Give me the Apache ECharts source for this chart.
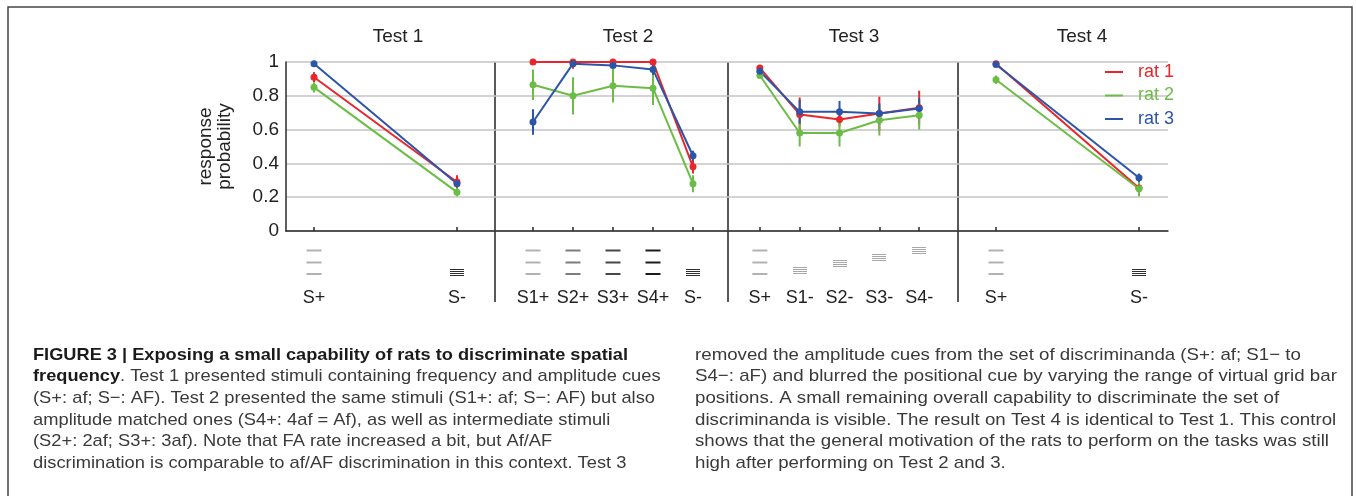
<!DOCTYPE html>
<html>
<head>
<meta charset="utf-8">
<script src="https://cdn.jsdelivr.net/npm/echarts@6/dist/echarts.min.js"></script>
<style>
html,body{margin:0;padding:0;background:#fff;}
#main{width:1356px;height:496px;}
</style>
</head>
<body>
<div id="main"></div>
<script>
// ---- data ----
const testNames = ['Test 1', 'Test 2', 'Test 3', 'Test 4']
const ratNames = ['rat 1', 'rat 2', 'rat 3']

const stim1 = ['S+', 'S-']
const stim2 = ['S1+', 'S2+', 'S3+', 'S4+', 'S-']
const stim3 = ['S+', 'S1-', 'S2-', 'S3-', 'S4-']
const stim4 = ['S+', 'S-']

// grating type of each stimulus (af = low amp/freq, AF = high, aF = low amp high freq)
const grating1 = ['af', 'AF']
const grating2 = ['af', '2af', '3af', '4af', 'AF']
const grating3 = ['af', 'aF', 'aF', 'aF', 'aF']
const grating4 = ['af', 'AF']
// positional shift of the grid bars (test 3)
const shift3 = [0, 0, 1, 2, 3]

// response probability, one array per rat
const t1Rat1 = [0.91, 0.29]
const t1Rat2 = [0.85, 0.23]
const t1Rat3 = [0.99, 0.28]
const t2Rat1 = [1.0, 1.0, 1.0, 1.0, 0.38]
const t2Rat2 = [0.865, 0.80, 0.86, 0.845, 0.28]
const t2Rat3 = [0.645, 0.99, 0.98, 0.955, 0.445]
const t3Rat1 = [0.965, 0.69, 0.66, 0.695, 0.73]
const t3Rat2 = [0.92, 0.58, 0.58, 0.655, 0.685]
const t3Rat3 = [0.945, 0.705, 0.705, 0.695, 0.725]
const t4Rat1 = [0.99, 0.255]
const t4Rat2 = [0.895, 0.25]
const t4Rat3 = [0.985, 0.315]

// error bar half lengths
const t1Err1 = [0.03, 0.04]
const t1Err2 = [0.03, 0.025]
const t1Err3 = [0.01, 0.02]
const t2Err1 = [0.0, 0.04, 0.0, 0.0, 0.04]
const t2Err2 = [0.09, 0.11, 0.10, 0.10, 0.05]
const t2Err3 = [0.075, 0.01, 0.015, 0.03, 0.03]
const t3Err1 = [0.01, 0.10, 0.04, 0.10, 0.10]
const t3Err2 = [0.01, 0.08, 0.08, 0.09, 0.085]
const t3Err3 = [0.01, 0.07, 0.065, 0.06, 0.06]
const t4Err1 = [0.01, 0.02]
const t4Err2 = [0.025, 0.045]
const t4Err3 = [0.01, 0.025]

const capLeft = [
    'FIGURE 3 | Exposing a small capability of rats to discriminate spatial',
    '. Test 1 presented stimuli containing frequency and amplitude cues',
    '(S+: af; S\u2212: AF). Test 2 presented the same stimuli (S1+: af; S\u2212: AF) but also',
    'amplitude matched ones (S4+: 4af = Af), as well as intermediate stimuli',
    '(S2+: 2af; S3+: 3af). Note that FA rate increased a bit, but Af/AF',
    'discrimination is comparable to af/AF discrimination in this context. Test 3'
]
const capRight = [
    'removed the amplitude cues from the set of discriminanda (S+: af; S1\u2212 to',
    'S4\u2212: aF) and blurred the positional cue by varying the range of virtual grid bar',
    'positions. A small remaining overall capability to discriminate the set of',
    'discriminanda is visible. The result on Test 4 is identical to Test 1. This control',
    'shows that the general motivation of the rats to perform on the tasks was still',
    'high after performing on Test 2 and 3.'
]

// ---- layout / style ----
const ratColors = ['#e8262b', '#6cbd45', '#2b55a8']
const font = '"Liberation Sans", Arial, sans-serif'
const panels = [
    {stim: stim1, grating: grating1, shift: null, rats: [t1Rat1, t1Rat2, t1Rat3], errs: [t1Err1, t1Err2, t1Err3],
        left: 286, width: 209, min: -0.196, max: 1.266, titleX: 393},
    {stim: stim2, grating: grating2, shift: null, rats: [t2Rat1, t2Rat2, t2Rat3], errs: [t2Err1, t2Err2, t2Err3],
        left: 495, width: 233, min: -0.95, max: 4.875, titleX: 623},
    {stim: stim3, grating: grating3, shift: shift3, rats: [t3Rat1, t3Rat2, t3Rat3], errs: [t3Err1, t3Err2, t3Err3],
        left: 728, width: 230, min: -0.8, max: 4.975, titleX: 849},
    {stim: stim4, grating: grating4, shift: null, rats: [t4Rat1, t4Rat2, t4Rat3], errs: [t4Err1, t4Err2, t4Err3],
        left: 958, width: 210, min: -0.266, max: 1.203, titleX: 1077}
]
const gridTop = 62
const gridH = 169
const shade = {af: '#b2b2b2', '2af': '#7c7c7c', '3af': '#474747', '4af': '#1c1c1c', AF: '#2e2e2e', aF: '#a8a8a8'}

const chart = echarts.init(document.getElementById('main'))

function iconRenderer(p){
    return function(params, api){
        const pt = api.coord([api.value(0), 0])
        const g = p.grating[params.dataIndex]
        const color = shade[g]
        const kids = []
        if(g.indexOf('f') >= 0){
            [19.5, 31.5, 43].forEach(dy => {
                kids.push({type: 'rect', shape: {x: pt[0] - 7.5, y: pt[1] + dy - 1, width: 15, height: 2}, style: {fill: color}})
            })
        }else{
            // dense grating: four thin bars, crisp on whole pixels
            const lift = p.shift ? p.shift[params.dataIndex] : 0
            const cy = Math.round(pt[1] + (p.shift ? 39 : 40.5) - lift * 6.7)
            ;[-3, -1, 1, 3].forEach(o => {
                kids.push({type: 'rect', shape: {x: Math.round(pt[0] - 7), y: cy + o, width: 14, height: 1}, style: {fill: color}})
            })
        }
        return {type: 'group', children: kids}
    }
}

function errRenderer(color){
    return function(params, api){
        const a = api.coord([api.value(0), api.value(1)])
        const b = api.coord([api.value(0), api.value(2)])
        return {type: 'line', shape: {x1: a[0], y1: a[1], x2: b[0], y2: b[1]}, style: {stroke: color, lineWidth: 2}}
    }
}

const grid = [], xAxis = [], yAxis = [], series = [], title = []
panels.forEach((p, i) => {
    grid.push({left: p.left, top: gridTop, width: p.width, height: gridH, outerBoundsMode: 'none'})
    const idx = p.stim.map((s, k) => k)
    xAxis.push({
        type: 'value', gridIndex: i, min: p.min, max: p.max,
        axisLine: {show: true, onZero: false, lineStyle: {color: '#2a2a2a', width: 1.5}},
        axisTick: {show: true, inside: true, length: 4, customValues: idx, lineStyle: {color: '#2a2a2a', width: 1.5}},
        axisLabel: {show: true, customValues: idx, margin: 58, fontSize: 18, color: '#222', fontFamily: font,
            formatter: v => p.stim[Math.round(v)]},
        splitLine: {show: false}
    })
    yAxis.push({
        type: 'value', gridIndex: i, min: 0, max: 1, interval: 0.2,
        axisLine: {show: i === 0, onZero: false, lineStyle: {color: '#2a2a2a', width: 1.5}},
        axisTick: {show: false},
        axisLabel: {show: i === 0, fontSize: 19, color: '#222', margin: 7, fontFamily: font},
        splitLine: {show: true, lineStyle: {color: '#c4c4c4', width: 1.5}},
        name: i === 0 ? 'response\nprobability' : '',
        nameLocation: 'middle', nameRotate: 90, nameGap: 52,
        nameTextStyle: {fontSize: 19, color: '#222', lineHeight: 19, fontFamily: font}
    })
    title.push({text: testNames[i], left: p.titleX, top: 22, textAlign: 'center',
        textStyle: {fontSize: 19, fontWeight: 'normal', color: '#222', fontFamily: font}})

    series.push({
        type: 'custom', xAxisIndex: i, yAxisIndex: i, silent: true,
        renderItem: iconRenderer(p), data: idx.map(k => [k, 0])
    })
    p.rats.forEach((vals, r) => {
        series.push({
            type: 'custom', name: ratNames[r], xAxisIndex: i, yAxisIndex: i, silent: true,
            renderItem: errRenderer(ratColors[r]),
            // probability cannot exceed 1
            data: vals.map((v, k) => [k, v - p.errs[r][k], Math.min(1, v + p.errs[r][k])])
        })
    })
    p.rats.forEach((vals, r) => {
        series.push({
            type: 'line', name: ratNames[r], xAxisIndex: i, yAxisIndex: i,
            data: vals.map((v, k) => [k, v]),
            symbol: 'circle', symbolSize: 7, color: ratColors[r],
            lineStyle: {width: 2, color: ratColors[r]}, itemStyle: {color: ratColors[r]}
        })
    })
})

// caption text, squeezed to match the journal's condensed face
const ctx = document.createElement('canvas').getContext('2d')
function textW(str, f){ ctx.font = f; return ctx.measureText(str).width }
const capReg = '17px ' + font
const capBoldF = 'bold 17px ' + font
const leftScale = 622 / textW(capLeft[2], capReg)
const rightScale = 634 / textW(capRight[4], capReg)
const boldScale = 595 / textW(capLeft[0], capBoldF)
const lineY = k => 355 + k * 21.65

const graphic = [
    {type: 'rect', shape: {x: 8, y: 7, width: 1344, height: 520}, style: {fill: 'none', stroke: '#444', lineWidth: 1.5}, silent: true}
]
;[495, 728, 958].forEach(x => {
    graphic.push({type: 'line', shape: {x1: x, y1: gridTop, x2: x, y2: 302}, style: {stroke: '#222', lineWidth: 1.5}, silent: true})
})
capLeft.forEach((s, k) => {
    if(k === 0){
        graphic.push({type: 'text', x: 33, y: lineY(k), scaleX: boldScale, style: {text: s, font: capBoldF, fill: '#1a1a1a', verticalAlign: 'middle'}})
    }else if(k === 1){
        const bw = textW('frequency', capBoldF) * boldScale
        graphic.push({type: 'text', x: 33, y: lineY(k), scaleX: boldScale, style: {text: 'frequency', font: capBoldF, fill: '#1a1a1a', verticalAlign: 'middle'}})
        graphic.push({type: 'text', x: 33 + bw, y: lineY(k), scaleX: leftScale, style: {text: s, font: capReg, fill: '#3a3a3a', verticalAlign: 'middle'}})
    }else{
        graphic.push({type: 'text', x: 33, y: lineY(k), scaleX: leftScale, style: {text: s, font: capReg, fill: '#3a3a3a', verticalAlign: 'middle'}})
    }
})
capRight.forEach((s, k) => {
    graphic.push({type: 'text', x: 695, y: lineY(k), scaleX: rightScale, style: {text: s, font: capReg, fill: '#3a3a3a', verticalAlign: 'middle'}})
})

chart.setOption({
    animation: false,
    title: title,
    grid: grid,
    xAxis: xAxis,
    yAxis: yAxis,
    legend: {
        orient: 'vertical', left: 1100, top: 58, itemWidth: 18, itemHeight: 2, itemGap: 5.5, icon: 'rect',
        textStyle: {fontSize: 18, fontFamily: font, padding: [0, 0, 0, 10]},
        data: ratNames.map((n, r) => ({name: n, itemStyle: {color: ratColors[r]}, textStyle: {color: ratColors[r]}}))
    },
    graphic: graphic,
    series: series
})
</script>
</body>
</html>
